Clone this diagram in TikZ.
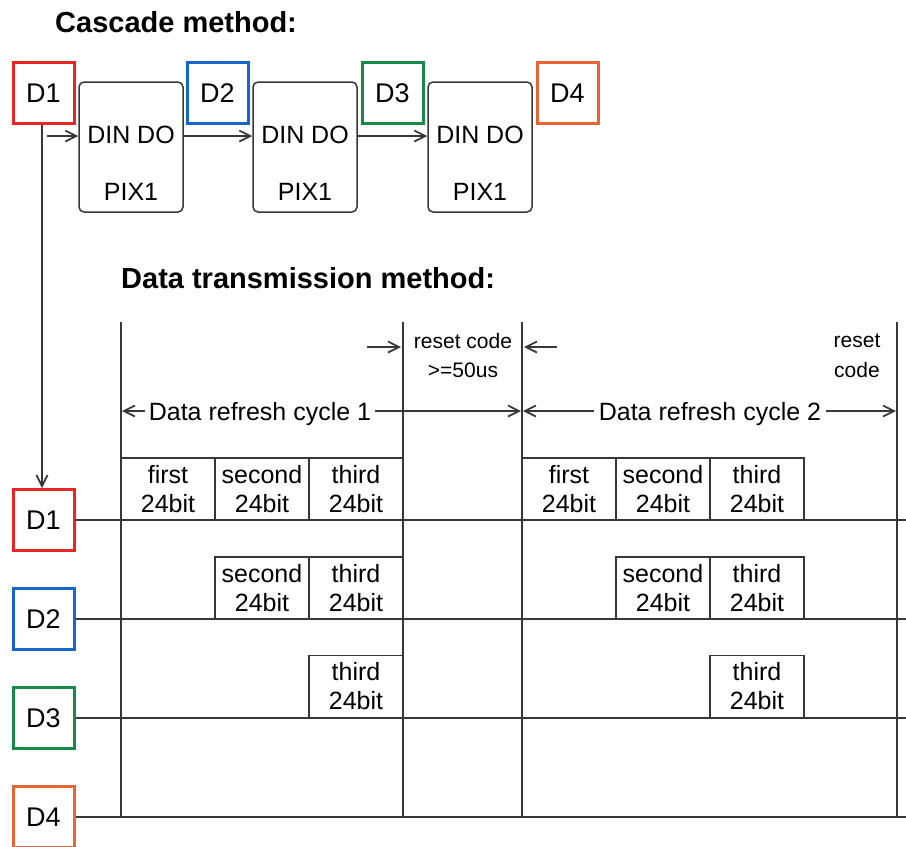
\documentclass[tikz,border=0pt]{standalone}
\usepackage{fontspec}
\setmainfont{Liberation Sans}
\usetikzlibrary{arrows.meta}
\definecolor{lc}{RGB}{55,55,55}
\definecolor{cred}{RGB}{228,38,38}
\definecolor{cblue}{RGB}{22,102,204}
\definecolor{cgreen}{RGB}{22,138,70}
\definecolor{corange}{RGB}{232,100,50}
\begin{document}
\begin{tikzpicture}[x=1pt,y=-1pt,
  dbox/.style={draw, line width=3pt, minimum width=61pt, minimum height=61pt, inner sep=0pt,
    font=\fontsize{27}{32}\selectfont, text=black},
  pix/.style={draw=lc, rounded corners=5pt, line width=1.5pt, minimum width=104pt, minimum height=130pt, inner sep=0pt},
  cell/.style={draw=lc, line width=1.6pt, minimum width=94pt, minimum height=62pt, inner sep=0pt,
    align=center, font=\fontsize{25}{29}\selectfont, text=black},
  lbl/.style={inner sep=0pt, font=\fontsize{25}{30}\selectfont, text=black},
  small/.style={inner sep=0pt, font=\fontsize{21}{25}\selectfont, text=black},
  head/.style={inner sep=0pt, anchor=west, font=\fontsize{29}{34}\selectfont\bfseries, text=black},
  ln/.style={draw=lc, line width=1.7pt},
  tipb/.tip={Straight Barb[length=11pt,width=11pt,line width=1.7pt]},
  arr/.style={draw=lc, line width=1.7pt, -tipb},
  darr/.style={draw=lc, line width=1.7pt, tipb-tipb}
]
\useasboundingbox (0,0) rectangle (906,847);
\clip (0,0) rectangle (906,847);

% headings
\node[head] (h1) at (55,22) {Cascade method:};
\node[head] (h2) at (121,278) {Data transmission method:};

% cascade top
\node[dbox, draw=cred] (t1) at (43.5,93) {D1};
\node[dbox, draw=cblue] (t2) at (217.5,93) {D2};
\node[dbox, draw=cgreen] (t3) at (392.5,93) {D3};
\node[dbox, draw=corange] (t4) at (567.5,93) {D4};

\node[pix] (p1) at (131,147) {};
\node[pix] (p2) at (305,147) {};
\node[pix] (p3) at (480,147) {};
\foreach \i/\x in {1/131,2/305,3/480}{
  \node[lbl] (din\i) at (\x,135) {DIN DO};
  \node[lbl] (px\i) at (\x,192) {PIX1};
}
\coordinate (ay) at (0,136);
\coordinate (a0) at (47,136);
\draw[arr] (a0) -- (p1.west |- ay);
\draw[arr] (p1.east |- ay) -- (p2.west |- ay);
\draw[arr] (p2.east |- ay) -- (p3.west |- ay);

% lower D boxes
\node[dbox, draw=cred] (b1) at (43.5,520) {D1};
\node[dbox, draw=cblue] (b2) at (43.5,619) {D2};
\node[dbox, draw=cgreen] (b3) at (43.5,718) {D3};
\node[dbox, draw=corange] (b4) at (43.5,817) {D4};

\coordinate (vx) at (42,0);
\draw[arr] (t1.south -| vx) -- (b1.north -| vx);

% vertical timing lines
\foreach \n/\x in {1/121,2/403,3/522,4/897}{
  \coordinate (v\n t) at (\x,322);
  \coordinate (v\n b) at (\x,817);
  \draw[ln] (v\n t) -- (v\n b);
}
% row lines
\foreach \n/\y in {1/520,2/619,3/718,4/817}{
  \coordinate (r\n e) at (906,\y);
  \draw[ln] (b\n.east) -- (r\n e);
}

% data cells cycle 1
\node[cell] (c11) at (168,489) {first\\24bit};
\node[cell] (c12) at (262,489) {second\\24bit};
\node[cell] (c13) at (356,489) {third\\24bit};
\node[cell] (c22) at (262,588) {second\\24bit};
\node[cell] (c23) at (356,588) {third\\24bit};
\node[cell] (c33) at (356,686.5) {third\\24bit};
% data cells cycle 2
\node[cell] (d11) at (569,489) {first\\24bit};
\node[cell] (d12) at (663,489) {second\\24bit};
\node[cell] (d13) at (757,489) {third\\24bit};
\node[cell] (d22) at (663,588) {second\\24bit};
\node[cell] (d23) at (757,588) {third\\24bit};
\node[cell] (d33) at (757,686.5) {third\\24bit};

% reset code annotations
\node[small] (rc1) at (463,341) {reset code};
\node[small] (rc2) at (463,370) {>=50us};
\node[small] (rc3) at (857,341) {reset};
\node[small] (rc4) at (857,370) {code};
\coordinate (ra1) at (367,347);
\coordinate (ra2) at (401,347);
\coordinate (rb1) at (557,347);
\coordinate (rb2) at (524,347);
\draw[arr] (ra1) -- (ra2);
\draw[arr] (rb1) -- (rb2);

% refresh cycle arrows
\coordinate (ca1) at (122,411);
\coordinate (ca2) at (521,411);
\coordinate (cb1) at (523,411);
\coordinate (cb2) at (896,411);
\draw[darr] (ca1) -- (ca2);
\draw[darr] (cb1) -- (cb2);
\node[lbl, fill=white, inner xsep=4pt, inner ysep=1pt, anchor=base] (cy1) at (260,420) {Data refresh cycle 1};
\node[lbl, fill=white, inner xsep=5pt, inner ysep=1pt, anchor=base] (cy2) at (710,420) {Data refresh cycle 2};
\end{tikzpicture}
\end{document}
